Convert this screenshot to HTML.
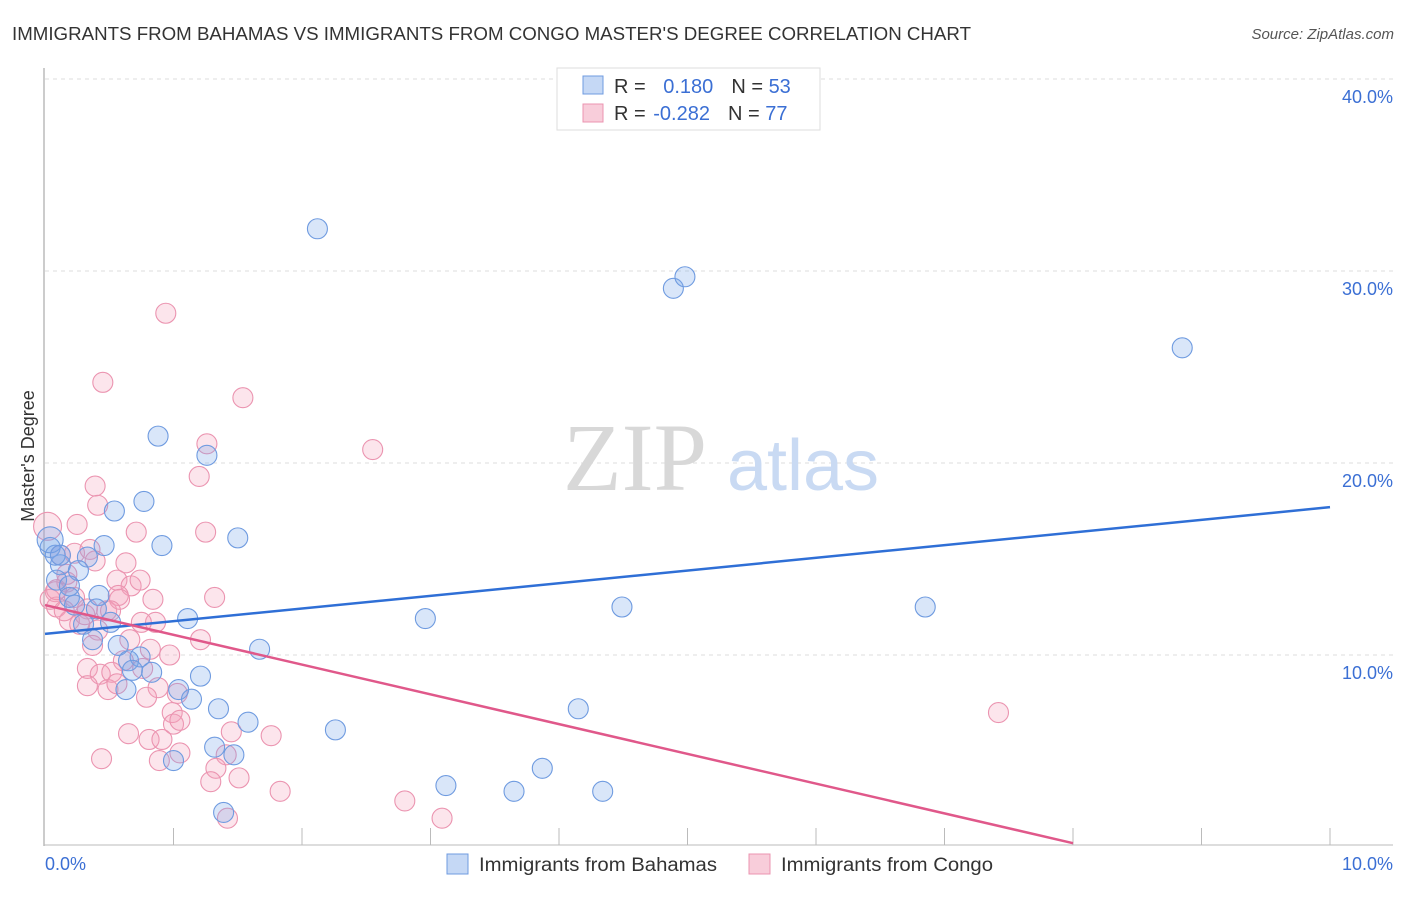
<!DOCTYPE html>
<html><head><meta charset="utf-8"><style>
body{margin:0;background:#fff;font-family:"Liberation Sans",sans-serif}
</style></head><body>
<svg width="1406" height="892" xmlns="http://www.w3.org/2000/svg" font-family="Liberation Sans, sans-serif">
<text x="12" y="40" font-size="18" fill="#333" textLength="959" lengthAdjust="spacingAndGlyphs">IMMIGRANTS FROM BAHAMAS VS IMMIGRANTS FROM CONGO MASTER'S DEGREE CORRELATION CHART</text>
<text x="1394" y="39" font-size="15" fill="#555" font-style="italic" text-anchor="end">Source: ZipAtlas.com</text>
<g id="grid"></g>
<text x="635" y="490" font-size="96" fill="#d8d8d8" text-anchor="middle" font-family="Liberation Serif, serif">ZIP</text>
<text x="803" y="490" font-size="72" fill="#c9daf3" text-anchor="middle">atlas</text>
<line x1="44" y1="68" x2="44" y2="846" stroke="#999" stroke-width="1"/>
<line x1="44" y1="845" x2="1393" y2="845" stroke="#bbb" stroke-width="1"/>
<g id="ticks"></g>
<text x="0" y="0" font-size="18" fill="#333" text-anchor="middle" transform="translate(34,456) rotate(-90)">Master's Degree</text>
<text x="45" y="870" font-size="18" fill="#3b6fd4">0.0%</text>
<text x="1393" y="870" font-size="18" fill="#3b6fd4" text-anchor="end">10.0%</text>
<g id="pts"></g>
<g id="lines"></g>
<g>
<rect x="557" y="68" width="263" height="62" fill="#fff" stroke="#ddd"/>
<rect x="583" y="76" width="20" height="18" fill="#c5d8f5" stroke="#6f9be0"/>
<rect x="583" y="104" width="20" height="18" fill="#f8cdda" stroke="#eb94b0"/>
<text x="614" y="93" font-size="20" fill="#333">R = <tspan fill="#3b6fd4" dx="12">0.180</tspan><tspan dx="18" fill="#333">N = </tspan><tspan fill="#3b6fd4">53</tspan></text>
<text x="614" y="120" font-size="20" fill="#333">R = <tspan fill="#3b6fd4" dx="2">-0.282</tspan><tspan dx="18" fill="#333">N = </tspan><tspan fill="#3b6fd4">77</tspan></text>
</g>
<g>
<rect x="447" y="854" width="21" height="20" fill="#c5d8f5" stroke="#6f9be0"/>
<text x="479" y="871" font-size="19" fill="#333" textLength="238" lengthAdjust="spacingAndGlyphs">Immigrants from Bahamas</text>
<rect x="749" y="854" width="21" height="20" fill="#f8cdda" stroke="#eb94b0"/>
<text x="781" y="871" font-size="19" fill="#333" textLength="212" lengthAdjust="spacingAndGlyphs">Immigrants from Congo</text>
</g>
</svg>
<script>
const yTicks=[10,20,30,40];
const yTickLabels=["10.0%","20.0%","30.0%","40.0%"];
const xTicks=[1,2,3,4,5,6,7,8,9,10];
const blueX=[2.12,4.89,4.98,8.85,0.88,1.26,0.77,0.54,1.50,0.91,0.46,0.04,0.33,0.12,0.26,0.09,0.19,0.42,0.19,0.40,0.23,1.11,2.96,4.49,6.85,0.51,0.30,0.37,0.57,1.67,0.65,0.74,0.68,0.83,1.21,1.04,0.63,1.14,1.35,4.15,1.58,2.26,1.32,1.47,1.00,3.12,3.87,3.65,4.34,1.39,0.08,0.04,0.12];
const blueY=[32.2,29.1,29.7,26.0,21.4,20.4,18.0,17.5,16.1,15.7,15.7,15.6,15.1,14.7,14.4,13.9,13.6,13.1,13.0,12.4,12.6,11.9,11.9,12.5,12.5,11.7,11.6,10.8,10.5,10.3,9.7,9.9,9.2,9.1,8.9,8.2,8.2,7.7,7.2,7.2,6.5,6.1,5.2,4.8,4.5,3.2,4.1,2.9,2.9,1.8,15.2,16.0,15.2];
const pinkX=[0.94,0.45,1.54,1.26,2.55,1.20,0.39,0.41,0.25,0.71,1.25,0.02,0.63,0.23,0.35,0.12,0.56,0.67,0.17,0.08,0.23,0.57,0.84,1.32,0.48,0.33,0.09,0.19,0.27,0.41,0.86,0.75,0.37,0.66,0.97,0.61,0.76,0.33,0.43,0.52,0.88,0.33,0.49,0.56,0.79,1.03,0.99,1.00,1.45,0.65,0.81,0.91,1.76,0.44,0.89,1.05,1.41,1.33,1.51,1.29,1.83,2.80,3.09,1.42,7.42,0.15,0.04,0.09,0.31,0.58,0.39,0.17,0.51,0.74,1.21,1.05,0.82];
const pinkY=[27.8,24.2,23.4,21.0,20.7,19.3,18.8,17.8,16.8,16.4,16.4,16.7,14.8,15.3,15.5,15.2,13.9,13.6,13.8,13.3,13.0,13.1,12.9,13.0,12.3,12.4,12.5,11.8,11.6,11.3,11.7,11.7,10.5,10.8,10.0,9.7,9.3,9.3,9.0,9.1,8.3,8.4,8.2,8.5,7.8,8.0,7.0,6.4,6.0,5.9,5.6,5.6,5.8,4.6,4.5,4.9,4.8,4.1,3.6,3.4,2.9,2.4,1.5,1.5,7.0,12.3,12.9,13.4,12.1,12.9,14.9,14.2,12.3,13.9,10.8,6.6,10.3];
const blueLine=[[0,11.1],[10,17.7]];
const pinkLine=[[0,12.6],[8.0,0.2]];
const NS="http://www.w3.org/2000/svg";
const sx=v=>45+v*128.5, sy=v=>847-v*19.2;
function mk(t,a,p){const e=document.createElementNS(NS,t);for(const k in a)e.setAttribute(k,a[k]);p.appendChild(e);return e;}
const grid=document.getElementById('grid');
yTicks.forEach((t,i)=>{
 const l=mk('line',{x1:45,x2:1393,y1:sy(t),y2:sy(t),stroke:'#ddd','stroke-dasharray':'4,4'},grid);
 
 
 const tx=mk('text',{x:1393,y:sy(t)+24,'font-size':18,fill:'#3b6fd4','text-anchor':'end'},grid);
 tx.textContent=yTickLabels[i];
 
 
});
mk('line',{x1:45,x2:1393,y1:79,y2:79,stroke:'#ddd','stroke-dasharray':'4,4'},grid);
const ticks=document.getElementById('ticks');
xTicks.forEach(t=>{
 const l=mk('line',{x1:sx(t),x2:sx(t),y1:828,y2:845,stroke:'#bbb'},ticks);
 
 
});
const pts=document.getElementById('pts');
pinkX.forEach((x,i)=>{
 const c=mk('circle',{cx:sx(x),cy:sy(pinkY[i]),r:i==11?14:10,fill:'rgba(244,160,188,0.28)',stroke:'#eb94b0','stroke-width':1.1},pts);
 
 
});
blueX.forEach((x,i)=>{
 const c=mk('circle',{cx:sx(x),cy:sy(blueY[i]),r:i==51?13:10,fill:'rgba(120,165,235,0.28)',stroke:'#6f9be0','stroke-width':1.1},pts);
 
 
});
const lines=document.getElementById('lines');
const bl=mk('line',{x1:sx(blueLine[0][0]),y1:sy(blueLine[0][1]),x2:sx(blueLine[1][0]),y2:sy(blueLine[1][1]),stroke:'#2f6fd6','stroke-width':2.5},lines);


const pl=mk('line',{x1:sx(pinkLine[0][0]),y1:sy(pinkLine[0][1]),x2:sx(pinkLine[1][0]),y2:sy(pinkLine[1][1]),stroke:'#e0588a','stroke-width':2.5},lines);


</script>
</body></html>
